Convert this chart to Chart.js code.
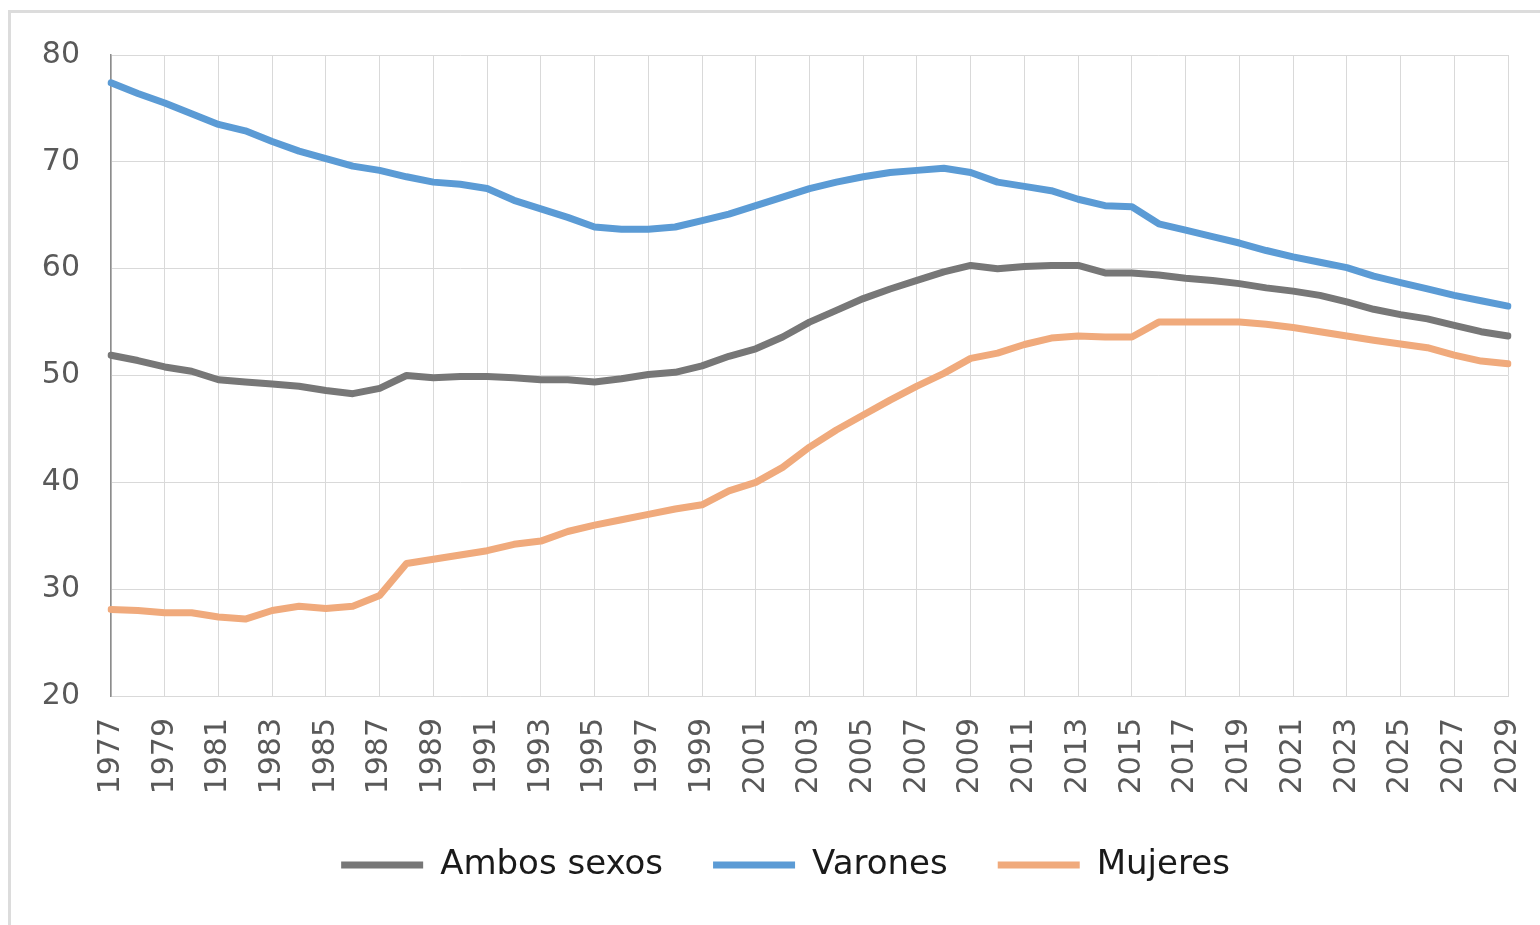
<!DOCTYPE html>
<html>
<head>
<meta charset="utf-8">
<script src="https://cdn.jsdelivr.net/npm/chart.js@4.4.1/dist/chart.umd.min.js"></script>
<style>
  html, body { margin: 0; padding: 0; background: #fff; }
  #wrap { position: relative; width: 1540px; height: 925px; overflow: hidden; }
  #frame { position: absolute; left: 8px; top: 10px; width: 1600px; height: 1000px;
           border-top: 3px solid #dcdcdc; border-left: 3px solid #dcdcdc; }
  #chart { position: absolute; left: 0; top: 0; }
</style>
</head>
<body>
<div id="wrap">
  <div id="frame"></div>
  <canvas id="chart" width="1540" height="925"></canvas>
</div>
<script>
// Años (eje X)
const years = [];
for (let y = 1977; y <= 2029; y++) years.push(String(y));

// Valores
const ambosSexos = [
  51.9, 51.4, 50.8, 50.4, 49.6, 49.4, 49.2, 49.0, 48.6, 48.3,
  48.8, 50.0, 49.8, 49.9, 49.9, 49.8, 49.6, 49.6, 49.4, 49.7,
  50.1, 50.3, 50.9, 51.8, 52.5, 53.6, 55.0, 56.1, 57.2, 58.1,
  58.9, 59.7, 60.3, 60.0, 60.2, 60.3, 60.3, 59.6, 59.6, 59.4,
  59.1, 58.9, 58.6, 58.2, 57.9, 57.5, 56.9, 56.2, 55.7, 55.3,
  54.7, 54.1, 53.7
];
const varones = [
  77.4, 76.4, 75.5, 74.5, 73.5, 72.9, 71.9, 71.0, 70.3, 69.6,
  69.2, 68.6, 68.1, 67.9, 67.5, 66.4, 65.6, 64.8, 63.9, 63.7,
  63.7, 63.9, 64.5, 65.1, 65.9, 66.7, 67.5, 68.1, 68.6, 69.0,
  69.2, 69.4, 69.0, 68.1, 67.7, 67.3, 66.5, 65.9, 65.8, 64.2,
  63.6, 63.0, 62.4, 61.7, 61.1, 60.6, 60.1, 59.3, 58.7, 58.1,
  57.5, 57.0, 56.5
];
const mujeres = [
  28.1, 28.0, 27.8, 27.8, 27.4, 27.2, 28.0, 28.4, 28.2, 28.4,
  29.4, 32.4, 32.8, 33.2, 33.6, 34.2, 34.5, 35.4, 36.0, 36.5,
  37.0, 37.5, 37.9, 39.2, 40.0, 41.4, 43.3, 44.9, 46.3, 47.7,
  49.0, 50.2, 51.6, 52.1, 52.9, 53.5, 53.7, 53.6, 53.6, 55.0,
  55.0, 55.0, 55.0, 54.8, 54.5, 54.1, 53.7, 53.3, 52.95, 52.6,
  51.9, 51.35, 51.1
];

const seriesNames = ['Ambos sexos', 'Varones', 'Mujeres'];
const seriesColors = ['#777777', '#5b9bd5', '#f0aa7c'];
const seriesData = [ambosSexos, varones, mujeres];

const gridColor = '#d9d9d9';
const tickFont = { family: 'DejaVu Sans', size: 30 };

// mueve la leyenda un poco a la izquierda, como en el original
const legendShift = {
  id: 'legendShift',
  afterLayout(chart) {
    if (chart.legend) {
      chart.legend.left -= 24;
      chart.legend.right -= 24;
    }
  }
};

const ctx = document.getElementById('chart').getContext('2d');

new Chart(ctx, {
  type: 'line',
  data: {
    labels: years,
    datasets: seriesNames.map((name, i) => ({
      label: name,
      data: seriesData[i],
      borderColor: seriesColors[i],
      backgroundColor: seriesColors[i],
      borderWidth: 7,
      pointRadius: 0,
      tension: 0,
      borderJoinStyle: 'round',
      borderCapStyle: 'round',
      fill: false
    }))
  },
  options: {
    responsive: false,
    animation: false,
    devicePixelRatio: 1,
    layout: { padding: { left: 0, right: 32, top: 55, bottom: 33 } },
    scales: {
      x: {
        grid: {
          color: c => (c.index % 2 === 0 ? gridColor : 'rgba(0,0,0,0)'),
          drawTicks: false
        },
        border: { color: gridColor },
        ticks: {
          autoSkip: false,
          minRotation: 90,
          maxRotation: 90,
          padding: 22,
          color: '#595959',
          font: tickFont,
          callback: (v, i) => (i % 2 === 0 ? years[i] : '')
        },
        afterFit: s => { s.height = 102; s.paddingLeft = 0; s.paddingRight = 0; }
      },
      y: {
        min: 20,
        max: 80,
        ticks: { stepSize: 10, padding: 31, color: '#595959', font: tickFont },
        grid: { color: gridColor, drawTicks: false },
        border: { color: '#8c8c8c', width: 1.5 },
        afterFit: s => { s.width = 111; }
      }
    },
    plugins: {
      tooltip: { enabled: false },
      legend: {
        position: 'bottom',
        fullSize: false,
        labels: {
          usePointStyle: true,
          pointStyle: 'line',
          pointStyleWidth: 82,
          padding: 50,
          color: '#1a1a1a',
          font: { family: 'DejaVu Sans', size: 34 }
        }
      }
    }
  },
  plugins: [legendShift]
});
</script>
</body>
</html>
